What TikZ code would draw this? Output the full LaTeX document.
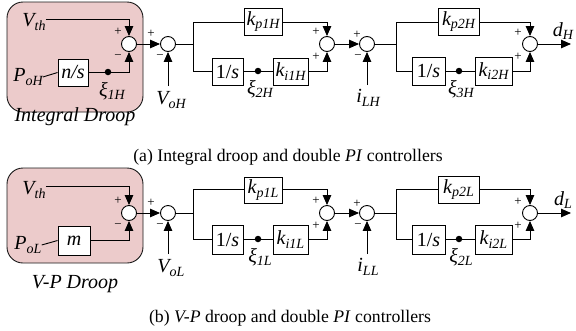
\documentclass[tikz,border=0pt]{standalone}
\usepackage{fontspec}
\setmainfont{Liberation Serif}
\usetikzlibrary{arrows.meta}
\definecolor{pinkc}{RGB}{236,203,203}
\newcommand\sbs[1]{\raisebox{-0.4ex}{\fontsize{14}{14}\selectfont\itshape #1}}
\tikzset{
 sumc/.style={circle,draw,line width=0.9pt,minimum size=15pt,inner sep=0pt,fill=white},
 blk/.style={draw,line width=0.9pt,inner sep=0pt,fill=white,font=\fontsize{20}{22}\selectfont\itshape},
 ln/.style={line width=0.9pt},
 arr/.style={ln,-{Triangle[length=10pt,width=8.5pt]}},
 lab/.style={font=\fontsize{20}{22}\selectfont\itshape, inner sep=0pt},
 sgn/.style={font=\fontsize{13}{13}\selectfont, inner sep=0pt},
 dotc/.style={circle,fill,inner sep=0pt,minimum size=6.5pt},
 droop/.style={draw=black!90, fill=pinkc, rounded corners=16pt, line width=0.9pt},
 captext/.style={font=\fontsize{17.7}{20}\selectfont, inner sep=0pt},
}
\begin{document}
\begin{tikzpicture}[x=1pt,y=-1pt]
\useasboundingbox (0,0) rectangle (576,330);
% ================= top row =================
\draw[droop] (7,2) rectangle (143,112);
\node[lab] (vth1) at (34,22) {V\sbs{th}};
\node[sumc] (a1) at (129,44) {};
\node[lab] (poh) at (28,77) {P\sbs{oH}};
\node[blk,minimum width=30pt,minimum height=27pt] (ns) at (73,72.5) {n/s};
\node[dotc] (d1) at (108,72) {};
\node[lab] (x1) at (112,91) {ξ\sbs{1H}};
\node[sgn] (p1a) at (118,32) {+};
\node[sgn] (m1a) at (118,57) {−};
\node[lab] (id) at (75,117) {Integral Droop};
\draw[arr] (vth1.east |- 0,19) coordinate (v1s) -| (a1.north);
\draw[ln] (poh.east) -- (ns.west);
\draw[ln] (ns.east |- d1) -- (d1);
\draw[arr] (d1) -| (a1.south);

\node[sumc] (a2) at (168,44) {};
\node[sgn] (p2a) at (151,34) {+};
\node[sgn] (m2a) at (160,57) {−};
\draw[arr] (a1.east) -- (a2.west);
\coordinate (voh0) at (168,86);
\node[lab] (voh) at (171,100) {V\sbs{oH}};
\draw[arr] (voh0) -- (a2.south);

\coordinate (b1) at (193,44);
\coordinate (b1t) at (193,22);
\coordinate (b1b) at (193,71);
\draw[ln] (a2.east) -- (b1);
\draw[ln] (b1t) -- (b1b);
\node[blk,minimum width=38pt,minimum height=27pt] (kp1) at (263,21.5) {k\sbs{p1H}};
\node[blk,minimum width=31pt,minimum height=27pt] (is1) at (227.5,71.5) {\upshape 1/\itshape s};
\node[dotc] (d2) at (258,71) {};
\node[blk,minimum width=35pt,minimum height=27pt] (ki1) at (290.5,71.5) {k\sbs{i1H}};
\node[lab] (x2) at (260,89) {ξ\sbs{2H}};
\node[sumc] (a3) at (327,44) {};
\node[sgn] (p3a) at (316,32) {+};
\node[sgn] (p3b) at (316,57) {+};
\draw[ln] (b1t) -- (kp1.west |- b1t);
\draw[arr] (kp1.east |- b1t) -| (a3.north);
\draw[ln] (b1b) -- (is1.west |- b1b);
\draw[ln] (is1.east |- d2) -- (d2) -- (ki1.west |- d2);
\draw[arr] (ki1.east |- d2) -| (a3.south);

\node[sumc] (a4) at (367,44) {};
\node[sgn] (p4a) at (357,35) {+};
\node[sgn] (m4a) at (358,57) {−};
\draw[arr] (a3.east) -- (a4.west);
\coordinate (ilh0) at (367,85);
\node[lab] (ilh) at (368,98) {i\sbs{LH}};
\draw[arr] (ilh0) -- (a4.south);

\coordinate (b2) at (396,44);
\coordinate (b2t) at (396,22);
\coordinate (b2b) at (396,71);
\draw[ln] (a4.east) -- (b2);
\draw[ln] (b2t) -- (b2b);
\node[blk,minimum width=41pt,minimum height=27pt] (kp2) at (458.5,21.5) {k\sbs{p2H}};
\node[blk,minimum width=33pt,minimum height=28pt] (is2) at (428.5,71) {\upshape 1/\itshape s};
\node[dotc] (d3) at (459,71) {};
\node[blk,minimum width=37pt,minimum height=28pt] (ki2) at (493.5,71) {k\sbs{i2H}};
\node[lab] (x3) at (461,89) {ξ\sbs{3H}};
\node[sumc] (a5) at (530,44) {};
\node[sgn] (p5a) at (518,33) {+};
\node[sgn] (p5b) at (518,57) {+};
\draw[ln] (b2t) -- (kp2.west |- b2t);
\draw[arr] (kp2.east |- b2t) -| (a5.north);
\draw[ln] (b2b) -- (is2.west |- b2b);
\draw[ln] (is2.east |- d3) -- (d3) -- (ki2.west |- d3);
\draw[arr] (ki2.east |- d3) -| (a5.south);
\coordinate (dh0) at (571,44);
\draw[arr] (a5.east) -- (dh0);
\node[lab] (dh) at (563,31) {d\sbs{H}};

\node[captext] (capa) at (288,157) {(a) Integral droop and double \textit{PI} controllers};

% ================= bottom row =================
\draw[droop] (7,168) rectangle (143,263);
\node[lab] (vth2) at (34,190) {V\sbs{th}};
\node[sumc] (c1) at (129,213) {};
\node[lab] (pol) at (28,245) {P\sbs{oL}};
\node[blk,minimum width=32pt,minimum height=29pt] (mm) at (74,240.5) {m};
\node[sgn] (p1c) at (118,201) {+};
\node[sgn] (m1c) at (118,226) {−};
\node[lab] (vp) at (75,284) {V-P Droop};
\draw[arr] (vth2.east |- 0,186) -| (c1.north);
\draw[ln] (pol.east) -- (mm.west);
\draw[arr] (mm.east |- 0,240) -| (c1.south);

\node[sumc] (c2) at (168,213) {};
\node[sgn] (p2c) at (151,203) {+};
\node[sgn] (m2c) at (160,226) {−};
\draw[arr] (c1.east) -- (c2.west);
\coordinate (vol0) at (168,254);
\node[lab] (vol) at (171,268) {V\sbs{oL}};
\draw[arr] (vol0) -- (c2.south);

\coordinate (e1) at (193,213);
\coordinate (e1t) at (193,189);
\coordinate (e1b) at (193,239);
\draw[ln] (c2.east) -- (e1);
\draw[ln] (e1t) -- (e1b);
\node[blk,minimum width=38pt,minimum height=26pt] (kp1l) at (263,190) {k\sbs{p1L}};
\node[blk,minimum width=31pt,minimum height=29pt] (is1l) at (227.5,239.5) {\upshape 1/\itshape s};
\node[dotc] (d4) at (258,239) {};
\node[blk,minimum width=35pt,minimum height=29pt] (ki1l) at (290.5,239.5) {k\sbs{i1L}};
\node[lab] (x4) at (260,257) {ξ\sbs{1L}};
\node[sumc] (c3) at (327,213) {};
\node[sgn] (p3c) at (316,201) {+};
\node[sgn] (p3d) at (316,226) {+};
\draw[ln] (e1t) -- (kp1l.west |- e1t);
\draw[arr] (kp1l.east |- e1t) -| (c3.north);
\draw[ln] (e1b) -- (is1l.west |- e1b);
\draw[ln] (is1l.east |- d4) -- (d4) -- (ki1l.west |- d4);
\draw[arr] (ki1l.east |- d4) -| (c3.south);

\node[sumc] (c4) at (367,213) {};
\node[sgn] (p4c) at (357,204) {+};
\node[sgn] (m4c) at (358,226) {−};
\draw[arr] (c3.east) -- (c4.west);
\coordinate (ill0) at (367,254);
\node[lab] (ill) at (368,267) {i\sbs{LL}};
\draw[arr] (ill0) -- (c4.south);

\coordinate (e2) at (396,213);
\coordinate (e2t) at (396,189);
\coordinate (e2b) at (396,239);
\draw[ln] (c4.east) -- (e2);
\draw[ln] (e2t) -- (e2b);
\node[blk,minimum width=41pt,minimum height=27pt] (kp2l) at (458.5,189.5) {k\sbs{p2L}};
\node[blk,minimum width=33pt,minimum height=29pt] (is2l) at (428.5,239.5) {\upshape 1/\itshape s};
\node[dotc] (d5) at (459,239) {};
\node[blk,minimum width=37pt,minimum height=29pt] (ki2l) at (493.5,239.5) {k\sbs{i2L}};
\node[lab] (x5) at (461,257) {ξ\sbs{2L}};
\node[sumc] (c5) at (530,213) {};
\node[sgn] (p5c) at (518,202) {+};
\node[sgn] (p5d) at (518,226) {+};
\draw[ln] (e2t) -- (kp2l.west |- e2t);
\draw[arr] (kp2l.east |- e2t) -| (c5.north);
\draw[ln] (e2b) -- (is2l.west |- e2b);
\draw[ln] (is2l.east |- d5) -- (d5) -- (ki2l.west |- d5);
\draw[arr] (ki2l.east |- d5) -| (c5.south);
\coordinate (dl0) at (571,213);
\draw[arr] (c5.east) -- (dl0);
\node[lab] (dl) at (563,200) {d\sbs{L}};

\node[captext] (capb) at (290,318) {(b) \textit{V-P} droop and double \textit{PI} controllers};
\end{tikzpicture}
\end{document}
